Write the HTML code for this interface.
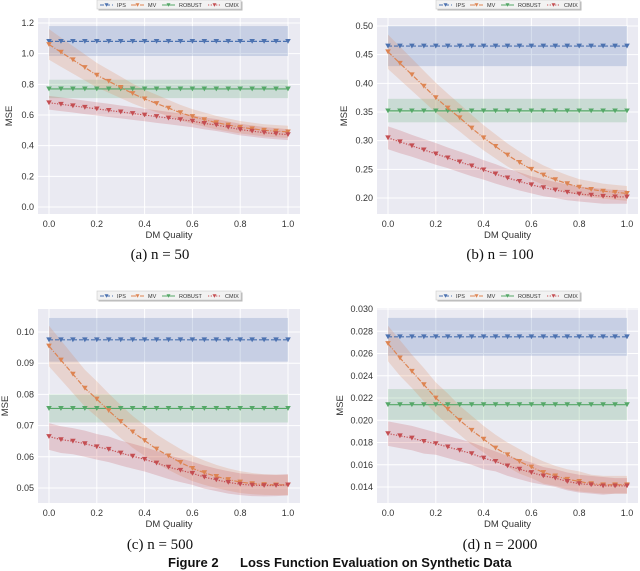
<!DOCTYPE html>
<html><head><meta charset="utf-8"><style>
body{margin:0;background:#fff;}
svg{display:block;font-family:"Liberation Sans",sans-serif;}
.cap{font-family:"Liberation Serif",serif;font-size:15px;}
</style></head><body>
<svg id="fig" width="640" height="571" viewBox="0 0 640 571" xmlns="http://www.w3.org/2000/svg"></svg>
<script>
const xs = [0,0.05,0.1,0.15,0.2,0.25,0.3,0.35,0.4,0.45,0.5,0.55,0.6,0.65,0.7,0.75,0.8,0.85,0.9,0.95,1.0];
const xTicks = [0,0.2,0.4,0.6,0.8,1.0];
// panel a (n=50)
const ipsA = 1.08, ipsBandA = [0.985,1.18];
const robA = 0.77, robBandA = [0.71,0.83];
const mvA = [1.06,1.01,0.96,0.91,0.86,0.82,0.78,0.74,0.705,0.675,0.645,0.615,0.59,0.57,0.55,0.535,0.52,0.51,0.50,0.495,0.49];
const mvErrA = [0.1,0.095,0.09,0.085,0.08,0.075,0.07,0.065,0.06,0.057,0.054,0.051,0.048,0.046,0.044,0.042,0.041,0.04,0.04,0.04,0.04];
const cmA = [0.68,0.67,0.66,0.65,0.64,0.63,0.62,0.61,0.60,0.59,0.58,0.57,0.56,0.545,0.535,0.52,0.505,0.495,0.485,0.478,0.472];
const cmErrA = [0.045,0.045,0.044,0.044,0.043,0.043,0.042,0.042,0.041,0.041,0.04,0.04,0.04,0.039,0.039,0.038,0.038,0.037,0.037,0.036,0.036];
const yTicksA = [0,0.2,0.4,0.6,0.8,1.0,1.2];
// panel b (n=100)
const ipsB = 0.465, ipsBandB = [0.43,0.50];
const robB = 0.352, robBandB = [0.332,0.373];
const mvB = [0.455,0.435,0.415,0.395,0.375,0.357,0.34,0.322,0.305,0.29,0.275,0.262,0.25,0.24,0.232,0.225,0.219,0.215,0.212,0.21,0.208];
const mvErrB = [0.03,0.029,0.028,0.027,0.026,0.025,0.024,0.023,0.022,0.021,0.02,0.019,0.018,0.017,0.016,0.015,0.014,0.014,0.013,0.013,0.013];
const cmB = [0.305,0.298,0.291,0.284,0.277,0.27,0.263,0.256,0.249,0.242,0.235,0.229,0.223,0.218,0.214,0.21,0.207,0.205,0.203,0.202,0.202];
const cmErrB = [0.02,0.02,0.019,0.019,0.019,0.018,0.018,0.018,0.017,0.017,0.016,0.016,0.015,0.015,0.014,0.014,0.013,0.013,0.013,0.012,0.012];
const yTicksB = [0.20,0.25,0.30,0.35,0.40,0.45,0.50];
// panel c (n=500)
const ipsC = 0.0975, ipsBandC = [0.0905,0.1045];
const robC = 0.0755, robBandC = [0.071,0.080];
const mvC = [0.0955,0.091,0.0865,0.082,0.0785,0.0748,0.0713,0.068,0.0652,0.0625,0.0603,0.0582,0.0563,0.0549,0.0537,0.0527,0.0519,0.0514,0.0511,0.051,0.051];
const mvErrC = [0.0065,0.0063,0.0061,0.0059,0.0057,0.0055,0.0053,0.0051,0.0049,0.0047,0.0045,0.0043,0.0041,0.0039,0.0037,0.0036,0.0035,0.0034,0.0033,0.0033,0.0033];
const cmC = [0.0665,0.0655,0.065,0.0642,0.0632,0.0624,0.0612,0.0602,0.0592,0.058,0.0567,0.0557,0.0547,0.0535,0.0526,0.0518,0.0512,0.0509,0.0508,0.0508,0.051];
const cmErrC = [0.0043,0.0043,0.0042,0.0042,0.0041,0.0041,0.004,0.004,0.0039,0.0039,0.0038,0.0038,0.0037,0.0037,0.0036,0.0036,0.0035,0.0035,0.0035,0.0034,0.0034];
const yTicksC = [0.05,0.06,0.07,0.08,0.09,0.10];
// panel d (n=2000)
const ipsD = 0.0275, ipsBandD = [0.0258,0.0292];
const robD = 0.0214, robBandD = [0.0200,0.0228];
const mvD = [0.0269,0.0256,0.0244,0.0232,0.0220,0.0210,0.0200,0.0191,0.0183,0.0175,0.0169,0.0163,0.0158,0.0153,0.0150,0.0147,0.0145,0.0143,0.0142,0.0142,0.0142];
const mvErrD = [0.0016,0.0016,0.0015,0.0015,0.0014,0.0014,0.0013,0.0013,0.0012,0.0012,0.0011,0.0011,0.001,0.001,0.0009,0.0009,0.0009,0.0008,0.0008,0.0008,0.0008];
const cmD = [0.0188,0.0186,0.0184,0.0181,0.0179,0.0176,0.0173,0.0170,0.0166,0.0163,0.0159,0.0156,0.0153,0.0150,0.0148,0.0145,0.0143,0.0142,0.0141,0.0141,0.0141];
const cmErrD = [0.0011,0.0011,0.0011,0.0011,0.001,0.001,0.001,0.001,0.001,0.0009,0.0009,0.0009,0.0009,0.0008,0.0008,0.0008,0.0008,0.0008,0.0008,0.0007,0.0007];
const yTicksD = [0.014,0.016,0.018,0.020,0.022,0.024,0.026,0.028,0.030];

const C = {ips:'#4c72b0', mv:'#dd8452', rob:'#55a868', cm:'#c44e52'};
const NS='http://www.w3.org/2000/svg';
const svg=document.getElementById('fig');
function mk(tag,attrs,parent){const e=document.createElementNS(NS,tag);for(const k in attrs)e.setAttribute(k,attrs[k]);(parent||svg).appendChild(e);return e;}

function tri(g,x,y,col){
  const e=mk('path',{d:`M${x-2.8},${y-2.4}L${x+2.8},${y-2.4}L${x},${y+2.4}Z`,fill:col},g);
  
  
}

function panel(P){
  const g=mk('g',{});
  
  
  const sx=v=>P.x0+(P.x1-P.x0)*v;
  const sy=v=>P.ya[1]+(P.yb[1]-P.ya[1])*(v-P.ya[0])/(P.yb[0]-P.ya[0]);
  const bg=mk('rect',{x:P.l,y:P.t,width:P.r-P.l,height:P.b-P.t,fill:'#eaeaf2'},g);
  
  
  xTicks.forEach(v=>{
    mk('line',{x1:sx(v),x2:sx(v),y1:P.t,y2:P.b,stroke:'#fff','stroke-width':1},g);
    const t=mk('text',{x:sx(v),y:P.b+13,'font-size':9,'text-anchor':'middle',fill:'#333'},g);
    t.textContent=v.toFixed(1);
    
    
  });
  P.yt.forEach(v=>{
    mk('line',{x1:P.l,x2:P.r,y1:sy(v),y2:sy(v),stroke:'#fff','stroke-width':1},g);
    const t=mk('text',{x:P.l-4,y:sy(v)+3,'font-size':9,'text-anchor':'end',fill:'#333'},g);
    t.textContent=v.toFixed(P.dec);
    
    
  });
  [[P.ipsBand,C.ips],[P.robBand,C.rob]].forEach(([bd,col])=>{
    const r=mk('rect',{x:sx(0),y:sy(bd[1]),width:sx(1)-sx(0),height:sy(bd[0])-sy(bd[1]),fill:col,'fill-opacity':0.22},g);
    
    
  });
  [[P.mv,P.mvErr,C.mv],[P.cm,P.cmErr,C.cm]].forEach(([ys,er,col])=>{
    let d='';
    xs.forEach((x,i)=>{d+=(i?'L':'M')+sx(x)+','+sy(ys[i]+er[i]);});
    for(let i=xs.length-1;i>=0;i--)d+='L'+sx(xs[i])+','+sy(ys[i]-er[i]);
    const p=mk('path',{d:d+'Z',fill:col,'fill-opacity':0.22},g);
    
    
  });
  const series=[
    ['ips-line',xs.map(()=>P.ips),C.ips,'4,2'],
    ['robust-line',xs.map(()=>P.rob),C.rob,''],
    ['mv-line',P.mv,C.mv,'5,1.5,1,1.5'],
    ['cmix-line',P.cm,C.cm,'1.2,1.5'],
  ];
  series.forEach(([nm,ys,col,da])=>{
    const pts=xs.map((x,i)=>sx(x)+','+sy(ys[i])).join(' ');
    const l=mk('polyline',{points:pts,fill:'none',stroke:col,'stroke-width':1.2,'stroke-dasharray':da},g);
    
    
    xs.forEach((x,i)=>tri(g,sx(x),sy(ys[i]),col));
  });
  const xl=mk('text',{x:(P.l+P.r)/2,y:P.b+24,'font-size':9.5,'text-anchor':'middle',fill:'#333'},g);
  xl.textContent='DM Quality';
  
  
  const yl=mk('text',{x:0,y:0,'font-size':9.5,'text-anchor':'middle',fill:'#333',transform:`translate(${P.l-P.yoff},${(P.t+P.b)/2}) rotate(-90)`},g);
  yl.textContent='MSE';
  
  
  const lx=P.legx, ly=P.legy;
  const lg=mk('g',{},g);
  
  
  mk('rect',{x:lx+1.5,y:ly-3.5,width:144,height:9,fill:'#888',opacity:0.6},lg);
  mk('rect',{x:lx,y:ly-5,width:144,height:9,fill:'#f2f2f2',stroke:'#ccc','stroke-width':0.6},lg);
  const ents=[['IPS',C.ips,'4,2',0],['MV',C.mv,'5,1.5,1,1.5',31],['ROBUST',C.rob,'',62],['CMIX',C.cm,'1.2,1.5',108]];
  ents.forEach(([t,col,da,o])=>{
    const e=mk('g',{},lg);
    
    
    mk('line',{x1:lx+o+3,x2:lx+o+16,y1:ly,y2:ly,stroke:col,'stroke-width':1,'stroke-dasharray':da},e);
    mk('path',{d:`M${lx+o+7.5},${ly-1.8}L${lx+o+11.5},${ly-1.8}L${lx+o+9.5},${ly+1.8}Z`,fill:col},e);
    const tx=mk('text',{x:lx+o+20,y:ly+2.2,'font-size':5.5,fill:'#333'},e);
    tx.textContent=t;
  });
  const cap=mk('text',{x:P.capx,y:P.capy,'text-anchor':'middle',class:'cap',fill:'#111'},g);
  cap.textContent=P.cap;
  
  
}

panel({name:'chart-n50',l:38,r:300,t:18,b:214,x0:49,x1:288,ya:[0,207],yb:[1.2,23],yt:yTicksA,dec:1,yoff:26,
  ips:ipsA,ipsBand:ipsBandA,rob:robA,robBand:robBandA,mv:mvA,mvErr:mvErrA,cm:cmA,cmErr:cmErrA,
  legx:97,legy:5,cap:'(a) n = 50',capx:160,capy:259});
panel({name:'chart-n100',l:377,r:638,t:18,b:214,x0:388,x1:627,ya:[0.2,198],yb:[0.5,26],yt:yTicksB,dec:2,yoff:30,
  ips:ipsB,ipsBand:ipsBandB,rob:robB,robBand:robBandB,mv:mvB,mvErr:mvErrB,cm:cmB,cmErr:cmErrB,
  legx:436,legy:5,cap:'(b) n = 100',capx:500,capy:259});
panel({name:'chart-n500',l:38,r:300,t:309,b:503,x0:49,x1:288,ya:[0.05,488],yb:[0.10,332],yt:yTicksC,dec:2,yoff:30,
  ips:ipsC,ipsBand:ipsBandC,rob:robC,robBand:robBandC,mv:mvC,mvErr:mvErrC,cm:cmC,cmErr:cmErrC,
  legx:97,legy:296,cap:'(c) n = 500',capx:160,capy:549});
panel({name:'chart-n2000',l:377,r:638,t:308,b:503,x0:388,x1:627,ya:[0.014,487],yb:[0.030,309],yt:yTicksD,dec:3,yoff:34,
  ips:ipsD,ipsBand:ipsBandD,rob:robD,robBand:robBandD,mv:mvD,mvErr:mvErrD,cm:cmD,cmErr:cmErrD,
  legx:436,legy:296,cap:'(d) n = 2000',capx:500,capy:549});
const ft=mk('text',{x:168,y:567,'font-size':13,'font-weight':'bold',fill:'#111'});
ft.textContent='Figure 2';


const ft2=mk('text',{x:240,y:567,'font-size':13,'font-weight':'bold',fill:'#111'});
ft2.textContent='Loss Function Evaluation on Synthetic Data';


</script>
</body></html>
